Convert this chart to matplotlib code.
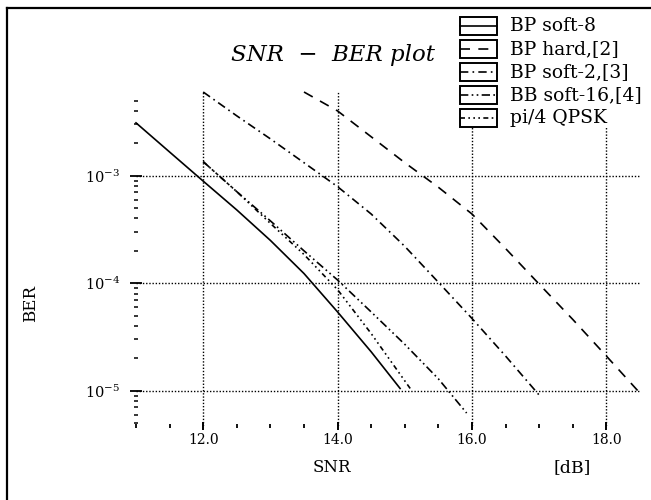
import numpy as np
import matplotlib
matplotlib.use("Agg")
import matplotlib.pyplot as plt
from matplotlib.lines import Line2D
from matplotlib.patches import Rectangle
from matplotlib.ticker import FixedLocator, NullFormatter

plt.rcParams['font.family'] = ['DejaVu Serif']
plt.rcParams['mathtext.fontset'] = 'dejavuserif'

# ── data ───────────────────────────────────────────────────
snr_soft8 = [11.0, 11.5, 12.0, 12.5, 13.0, 13.5, 14.0, 14.5, 14.93]
ber_soft8 = [3.1e-3, 1.66e-3, 8.9e-4, 4.8e-4, 2.5e-4, 1.23e-4, 5.4e-5, 2.3e-5, 1.05e-5]

snr_hard = [13.5, 14.0, 14.5, 15.0, 15.5, 16.0, 16.5, 17.0, 17.5, 18.0, 18.48]
ber_hard = [6.0e-3, 4.0e-3, 2.3e-3, 1.32e-3, 7.8e-4, 4.4e-4, 2.1e-4, 9.8e-5, 4.6e-5, 2.1e-5, 9.8e-6]

snr_soft2 = [12.0, 12.5, 13.0, 13.5, 14.0, 14.5, 15.0, 15.5, 16.0, 16.5, 17.0]
ber_soft2 = [6.0e-3, 3.6e-3, 2.2e-3, 1.32e-3, 7.9e-4, 4.4e-4, 2.2e-4, 1.02e-4, 4.7e-5, 2.1e-5, 9.1e-6]

snr_soft16 = [12.0, 12.5, 13.0, 13.5, 14.0, 14.5, 15.0, 15.5, 15.92]
ber_soft16 = [1.35e-3, 7.1e-4, 3.8e-4, 2.0e-4, 1.07e-4, 5.4e-5, 2.7e-5, 1.29e-5, 6.2e-6]

snr_qpsk = [12.0, 12.5, 13.0, 13.5, 14.0, 14.5, 15.08]
ber_qpsk = [1.35e-3, 7.1e-4, 3.6e-4, 1.85e-4, 8.7e-5, 3.4e-5, 1.05e-5]

labels = ["BP soft-8", "BP hard,[2]", "BP soft-2,[3]", "BB soft-16,[4]", "pi/4 QPSK"]
styles = ['-', (0, (6, 5)), (0, (5, 2.5, 1, 2.5)), (0, (5, 2, 1, 2, 1, 2)),
          (0, (3, 2, 1, 2, 1, 2, 1, 2))]
series = [(snr_soft8, ber_soft8), (snr_hard, ber_hard), (snr_soft2, ber_soft2),
          (snr_soft16, ber_soft16), (snr_qpsk, ber_qpsk)]

x_major = [12, 14, 16, 18]
x_minor = [11, 11.5, 12.5, 13, 13.5, 14.5, 15, 15.5, 16.5, 17, 17.5]
y_major = [1e-3, 1e-4, 1e-5]
y_minor = [5e-3, 4e-3, 3e-3, 2e-3] + [k * 1e-4 for k in range(2, 10)] \
          + [k * 1e-5 for k in range(2, 10)] + [9e-6, 8e-6, 7e-6, 6e-6, 5e-6]

# ── figure ─────────────────────────────────────────────────
W, H = 651, 500
fig = plt.figure(figsize=(W / 100, H / 100), dpi=100)
ax = fig.add_axes([136 / W, (H - 426) / H, 504 / W, (426 - 91.7) / H])
ax.set_yscale('log')
ax.set_xlim(11, 18.5)
ax.set_ylim(10 ** -5.328, 10 ** -2.219)

for s in ax.spines.values():
    s.set_visible(False)

for (x, y), ls in zip(series, styles):
    ax.plot(x, y, color='black', lw=1.2, linestyle=ls, clip_on=False)

ax.xaxis.set_major_locator(FixedLocator(x_major))
ax.xaxis.set_minor_locator(FixedLocator(x_minor))
ax.set_xticklabels([f"{v:.1f}" for v in x_major])
ax.yaxis.set_major_locator(FixedLocator(y_major))
ax.yaxis.set_minor_locator(FixedLocator(y_minor))
ax.yaxis.set_minor_formatter(NullFormatter())

ax.tick_params(axis='x', which='major', direction='inout', length=6, width=1.4,
               pad=2, labelsize=10)
ax.tick_params(axis='x', which='minor', direction='inout', length=3, width=1.3)
ax.tick_params(axis='y', which='major', direction='inout', length=8.5, width=1.3,
               pad=7, labelsize=10.5)
ax.tick_params(axis='y', which='minor', direction='inout', length=2.5, width=1.1)

ax.grid(which='major', color='black', lw=1.0, linestyle=(0, (1, 1.3)))

# ── text ───────────────────────────────────────────────────
fig.text(333 / W, 1 - 55 / H, "SNR  −  BER plot", fontsize=16.5, fontstyle='italic',
         ha='center', va='center')
fig.text(31 / W, 1 - 303 / H, "BER", rotation=90, fontsize=12, ha='center', va='center')
fig.text(332 / W, 1 - 468 / H, "SNR", fontsize=12, ha='center', va='center')
fig.text(572 / W, 1 - 468 / H, "[dB]", fontsize=12.5, ha='center', va='center')

# ── legend drawn by hand (boxes with a line through) ───────
fig.add_artist(Rectangle((455 / W, 1 - 127 / H), (W - 455) / W, 115 / H,
                         transform=fig.transFigure, facecolor='white', edgecolor='none'))
for i, (lab, ls) in enumerate(zip(labels, styles)):
    top = 16.7 + 23 * i
    mid = top + 9
    fig.add_artist(Rectangle((460 / W, 1 - (top + 18) / H), 37 / W, 18 / H,
                             transform=fig.transFigure, facecolor='none',
                             edgecolor='black', lw=1.4))
    fig.add_artist(Line2D([460 / W, 497 / W], [1 - mid / H, 1 - mid / H],
                          transform=fig.transFigure, color='black', lw=1.2, linestyle=ls))
    fig.text(510 / W, 1 - mid / H, lab, fontsize=13.5, ha='left', va='center')

# frame of the scanned page
fig.add_artist(Line2D([7 / W, 7 / W], [0, 1 - 8 / H], transform=fig.transFigure,
                      color='black', lw=1.6))
fig.add_artist(Line2D([7 / W, 1], [1 - 8 / H, 1 - 8 / H], transform=fig.transFigure,
                      color='black', lw=1.6))

fig.savefig("out.png", dpi=100)
